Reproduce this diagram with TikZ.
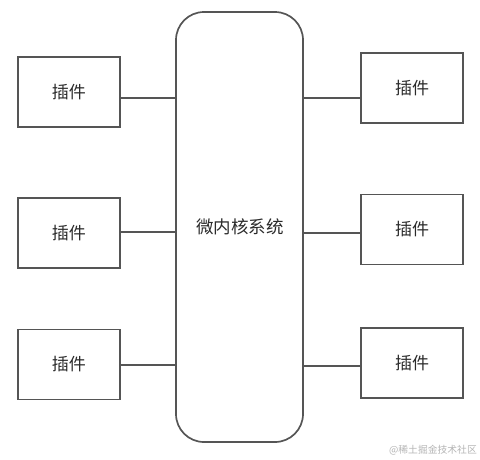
\documentclass[tikz,border=0pt]{standalone}
\usepackage{fontspec}
\newfontfamily\cjk{Noto Sans CJK SC}
\definecolor{linec}{HTML}{555555}
\definecolor{textc}{HTML}{2A2A2A}
\definecolor{wmc}{HTML}{B4B4B4}
\begin{document}
\begin{tikzpicture}[x=1pt,y=-1pt,
  plug/.style={draw=linec,line width=1.7pt,minimum width=102pt,minimum height=70pt,inner sep=0pt,font=\cjk\fontsize{17}{19}\selectfont,text=textc},
  conn/.style={draw=linec,line width=1.7pt}]
\useasboundingbox (0,0) rectangle (480,459);
\node[draw=linec,line width=1.7pt,rounded corners=28pt,minimum width=127pt,minimum height=430pt,inner sep=0pt] (core) at (239.5,227) {};
\node[font=\cjk\fontsize{17.5}{19}\selectfont,text=textc] (ct) at (240,227) {微内核系统};
\node[plug] (l1) at (69,92) {插件};
\node[plug] (l2) at (69,233) {插件};
\node[plug] (l3) at (69,364.5) {插件};
\node[plug] (r1) at (412,88) {插件};
\node[plug] (r2) at (412,229.5) {插件};
\node[plug] (r3) at (412,363) {插件};
\draw[conn] (l1.east |- 0,98) -- (core.west |- 0,98);
\draw[conn] (l2.east |- 0,232) -- (core.west |- 0,232);
\draw[conn] (l3.east |- 0,365) -- (core.west |- 0,365);
\draw[conn] (r1.west |- 0,98) -- (core.east |- 0,98);
\draw[conn] (r2.west |- 0,233) -- (core.east |- 0,233);
\draw[conn] (r3.west |- 0,366) -- (core.east |- 0,366);
\node[font=\cjk\fontsize{9.8}{11}\selectfont,text=wmc,anchor=east,inner sep=0pt] (wm) at (477,450) {@稀土掘金技术社区};
\end{tikzpicture}
\end{document}
